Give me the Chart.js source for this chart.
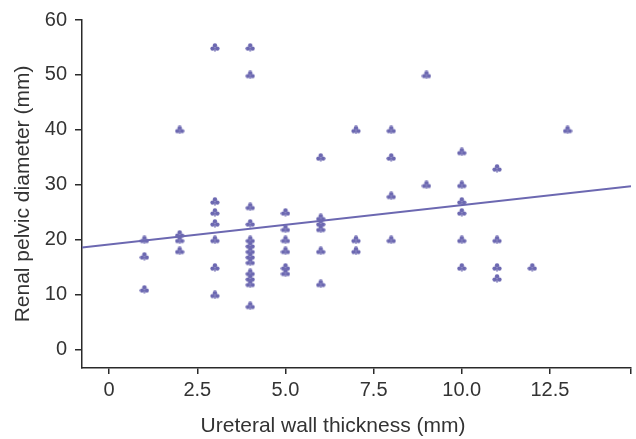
<!DOCTYPE html>
<html>
<head>
<meta charset="utf-8">
<script src="https://cdn.jsdelivr.net/npm/chart.js@4"></script>
<style>
  html, body { margin: 0; padding: 0; background: #fff; }
  #wrap { width: 636px; height: 439px; }
</style>
</head>
<body>
<div id="wrap"><canvas id="myChart" width="636" height="439"></canvas></div>
<script>
// values
const wallThickness = [1,1,1, 2,2,2,2, 3,3,3,3,3,3,3, 4,4,4,4,4,4,4,4,4,4,4,4,4,
    5,5,5,5,5,5, 6,6,6,6,6,6, 7,7,7, 8,8,8,8, 9,9, 10,10,10,10,10,10, 11,11,11,11, 12, 13]
const pelvicDiameter = [20,17,11, 40,21,20,18, 55,27,25,23,20,15,10, 55,50,26,23,20,19,18,17,16,14,13,12,8,
    25,22,20,18,15,14, 35,24,23,22,18,12, 40,20,18, 40,35,28,20, 50,30, 36,30,27,25,20,15, 33,20,15,13, 15, 40]
const xTicks = [0, 2.5, 5, 7.5, 10, 12.5]
const yTicks = [0, 10, 20, 30, 40, 50, 60]
const xMin = -0.77, xMax = 14.8
const yMin = -3.3, yMax = 60
const fitIntercept = 19.15
const fitSlope = 0.717
const xTitle = 'Ureteral wall thickness (mm)'
const yTitle = 'Renal pelvic diameter (mm)'

const purple = '#6c68b1'
const axisColor = '#2a2a2a'
const textColor = '#333'
const fontFamily = "'Liberation Sans', Arial, sans-serif"

// club-like marker
function makeMarker() {
    const c = document.createElement('canvas')
    c.width = 10; c.height = 9
    const g = c.getContext('2d')
    g.fillStyle = purple
    const blob = (x, y) => { g.beginPath(); g.arc(x, y, 2.2, 0, Math.PI * 2); g.fill() }
    blob(5, 2.5)
    blob(2.6, 5.6)
    blob(7.4, 5.6)
    g.fillRect(4.3, 5, 1.4, 3.6)
    return c
}
const marker = makeMarker()

const points = wallThickness.map((x, i) => ({x: x, y: pelvicDiameter[i]}))
const fitLine = [xMin, xMax].map(x => ({x: x, y: fitIntercept + fitSlope * x}))

// x title sits left of the plot centre in the original, so draw it by hand
const xTitlePlugin = {
    id: 'xTitle',
    afterDraw(chart) {
        const c = chart.ctx
        c.save()
        c.font = '21px ' + fontFamily
        c.fillStyle = textColor
        c.textAlign = 'center'
        c.textBaseline = 'middle'
        c.fillText(xTitle, 333, 426)
        c.restore()
    }
}

try {
    var ctx = document.getElementById('myChart').getContext('2d')
    var myChart = new Chart(ctx, {
        type: 'scatter',
        data: {
            datasets: [{
                data: points,
                pointStyle: marker,
                pointRadius: 4,
                showLine: false
            }, {
                type: 'line',
                data: fitLine,
                borderColor: purple,
                borderWidth: 2,
                pointRadius: 0,
                fill: false
            }]
        },
        plugins: [xTitlePlugin],
        options: {
            responsive: false,
            animation: false,
            events: [],
            layout: {padding: {top: 15, right: 5, left: 0, bottom: 0}},
            plugins: {legend: {display: false}, tooltip: {enabled: false}},
            scales: {
                x: {
                    type: 'linear',
                    min: xMin,
                    max: xMax,
                    afterBuildTicks: (s) => { s.ticks = xTicks.concat([xMax]).map(v => ({value: v})) },
                    afterFit: (s) => { s.height = 71 },
                    grid: {drawOnChartArea: false, tickLength: 6, color: axisColor, lineWidth: 1.5},
                    border: {display: true, color: axisColor, width: 1.5},
                    ticks: {
                        padding: 4,
                        color: textColor,
                        font: {family: fontFamily, size: 20},
                        maxRotation: 0,
                        callback: (v) => v === xMax ? '' : (v === 0 ? '0' : v.toFixed(1))
                    }
                },
                y: {
                    min: yMin,
                    max: yMax,
                    afterBuildTicks: (s) => { s.ticks = yTicks.map(v => ({value: v})) },
                    afterFit: (s) => { s.width = 82 },
                    grid: {drawOnChartArea: false, tickLength: 7, color: axisColor, lineWidth: 1.5},
                    border: {display: true, color: axisColor, width: 1.5},
                    ticks: {
                        padding: 8,
                        color: textColor,
                        font: {family: fontFamily, size: 20}
                    },
                    title: {
                        display: true,
                        text: yTitle,
                        color: textColor,
                        font: {family: fontFamily, size: 21},
                        padding: {top: 11, bottom: 0}
                    }
                }
            }
        }
    })
} catch (error) {
    console.log(error)
}
</script>
</body>
</html>
